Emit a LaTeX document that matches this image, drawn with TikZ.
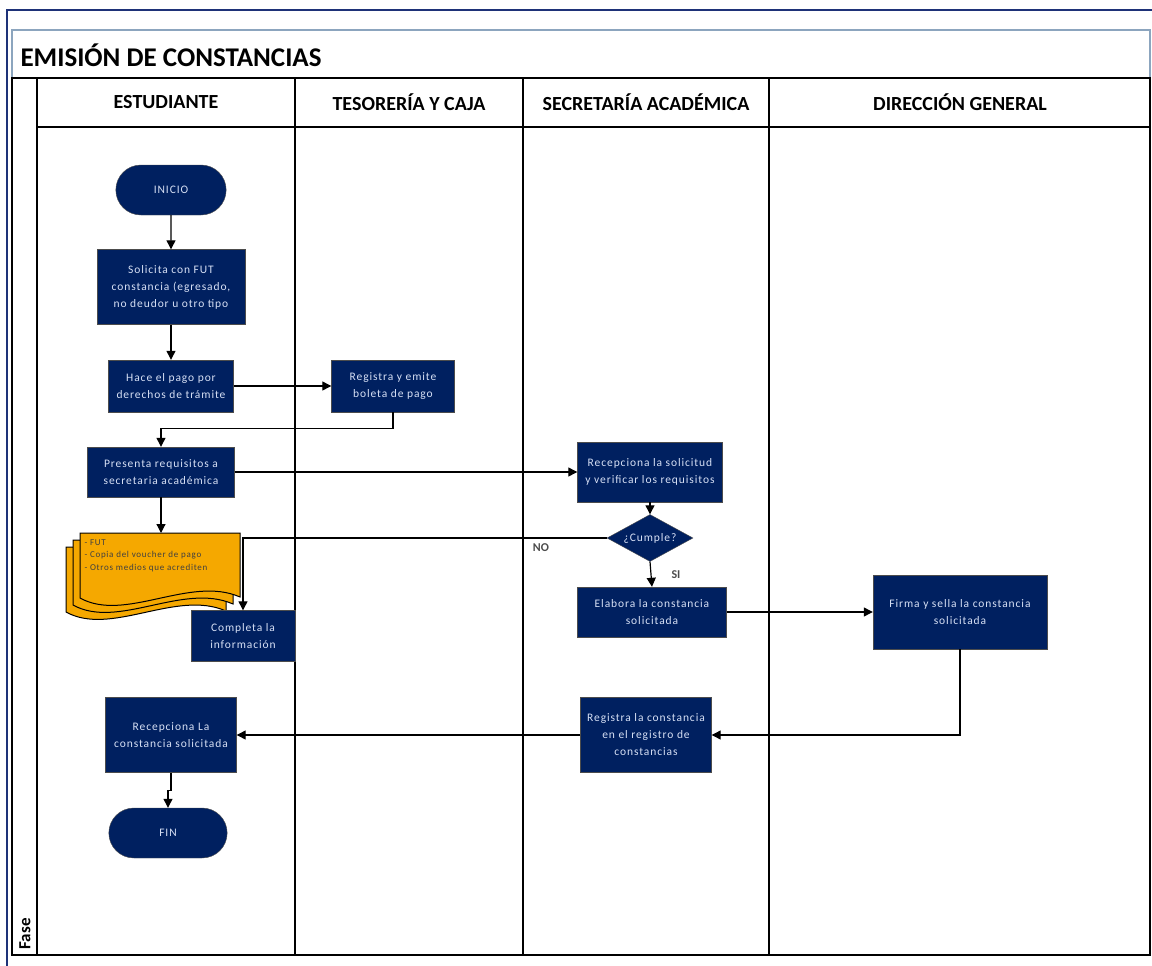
\documentclass[tikz,border=0pt]{standalone}
\usepackage{fontspec}
\setmainfont{Carlito}
\newfontfamily\spacedfont[LetterSpace=8]{Carlito}
\usetikzlibrary{arrows.meta,shapes.geometric,shapes.misc}
\definecolor{navy}{RGB}{0,32,96}
\definecolor{nodetext}{RGB}{215,224,245}
\definecolor{docorange}{RGB}{245,168,0}
\definecolor{framebl}{RGB}{30,50,120}
\definecolor{titleline}{RGB}{140,165,190}
\newcommand{\docpage}[2]{%
  \draw[fill=docorange,line width=1pt] (80+#1,533+#2) -- (240+#1,533+#2) -- (240+#1,597+#2)
    .. controls (190+#1,575+#2) and (125+#1,623+#2) .. (80+#1,598+#2) -- cycle;}
\begin{document}
\begin{tikzpicture}[x=1pt,y=-1pt,
    proc/.style={rectangle,draw=black!70,fill=navy,text=nodetext,align=center,
      font=\spacedfont\fontsize{11.5}{17}\selectfont,inner sep=2pt},
    term/.style={rounded rectangle,draw=black!70,fill=navy,text=nodetext,
      font=\spacedfont\fontsize{11.5}{17}\selectfont},
    arr/.style={-{Triangle[length=9pt,width=9pt]},line width=1.2pt},
    lane/.style={line width=1.5pt},
    head/.style={font=\bfseries\fontsize{20}{24}\selectfont},
    lbl/.style={text=black!70,font=\bfseries\fontsize{12}{14}\selectfont}]
  \useasboundingbox (0,0) rectangle (1152,966);
  % frame and lanes
  \draw[framebl,line width=1.5pt] (7,966) -- (7,10) -- (1152,10);
  \draw[titleline,line width=1.5pt] (12,78) -- (12,30) -- (1150,30) -- (1150,78);
  \node[anchor=west,font=\bfseries\fontsize{27}{30}\selectfont] (title) at (17,55) {EMISIÓN DE CONSTANCIAS};
  \draw[lane] (12,78) rectangle (1150,955);
  \draw[lane] (37,127) -- (1150,127);
  \foreach \x in {37,295,523,769}
    \draw[lane] (\x,78) -- (\x,955);
  \foreach \x/\name in {166/ESTUDIANTE,409/TESORERÍA Y CAJA,646/SECRETARÍA ACADÉMICA,960/DIRECCIÓN GENERAL}
    \node[head] at (\x,102) {\name};
  \node[rotate=90,anchor=west,font=\bfseries\fontsize{17}{19}\selectfont] (fase) at (25,953) {Fase};

  % nodes
  \node[term,minimum width=117pt,minimum height=50pt] (inicio) at (171,190) {INICIO};
  \node[proc,minimum width=148pt,minimum height=75pt] (solicita) at (171,287) {Solicita con FUT\\constancia (egresado,\\no deudor u otro tipo};
  \node[proc,minimum width=125pt,minimum height=52pt] (pago) at (171,386) {Hace el pago por\\derechos de trámite};
  \node[proc,minimum width=123pt,minimum height=52pt] (boleta) at (393,386) {Registra y emite\\boleta de pago};
  \node[proc,minimum width=147pt,minimum height=50pt] (presenta) at (161,472) {Presenta requisitos a\\secretaria académica};
  \node[proc,minimum width=145pt,minimum height=60pt] (recepciona) at (650,472) {Recepciona la solicitud\\y verificar los requisitos};
  \node[diamond,draw=black!70,fill=navy,text=nodetext,inner sep=0pt,minimum width=86pt,minimum height=47pt,
    font=\spacedfont\fontsize{11.5}{17}\selectfont] (cumple) at (650,538) {\makebox[0pt]{¿Cumple?}};
  \docpage{-14}{14}
  \docpage{-7}{7}
  \docpage{0}{0}
  \coordinate (doctop) at (161,533);
  \node[anchor=north west,align=left,text=black!75,font=\spacedfont\fontsize{9}{12.5}\selectfont] (requisitos) at (81,536)
    {- FUT\\- Copia del voucher de pago\\- Otros medios que acrediten};
  \node[proc,minimum width=104pt,minimum height=51pt] (completa) at (243,636) {Completa la\\información};
  \node[proc,minimum width=149pt,minimum height=50pt] (elabora) at (652,612) {Elabora la constancia\\solicitada};
  \node[proc,minimum width=174pt,minimum height=74pt] (firma) at (960,612) {Firma y sella la constancia\\solicitada};
  \node[proc,minimum width=131pt,minimum height=75pt] (registro) at (646,735) {Registra la constancia\\en el registro de\\constancias};
  \node[proc,minimum width=131pt,minimum height=75pt] (recibe) at (171,735) {Recepciona La\\constancia solicitada};
  \node[term,minimum width=125pt,minimum height=50pt] (fin) at (168,833) {FIN};

  % connectors
  \draw[arr] (inicio) -- (solicita);
  \draw[arr] (solicita) -- (pago);
  \draw[arr] (pago) -- (boleta);
  \draw[arr] (boleta.south) -- ++(0,16) -| (presenta.north);
  \draw[arr] (presenta) -- (recepciona);
  \draw[arr] (presenta.south) -- (doctop);
  \draw[arr] (recepciona) -- (cumple);
  \draw[arr] (cumple.west) -| (completa.north);
  \draw[arr] (cumple.south) -- (elabora.north);
  \draw[arr] (elabora) -- (firma);
  \draw[arr] (firma.south) |- (registro.east);
  \draw[arr] (registro) -- (recibe);
  \draw[arr] (recibe.south) -- ++(0,18) -| (fin.north);
  \node[lbl] (no) at (541,548) {NO};
  \node[lbl] (si) at (676,575) {SI};
\end{tikzpicture}
\end{document}
